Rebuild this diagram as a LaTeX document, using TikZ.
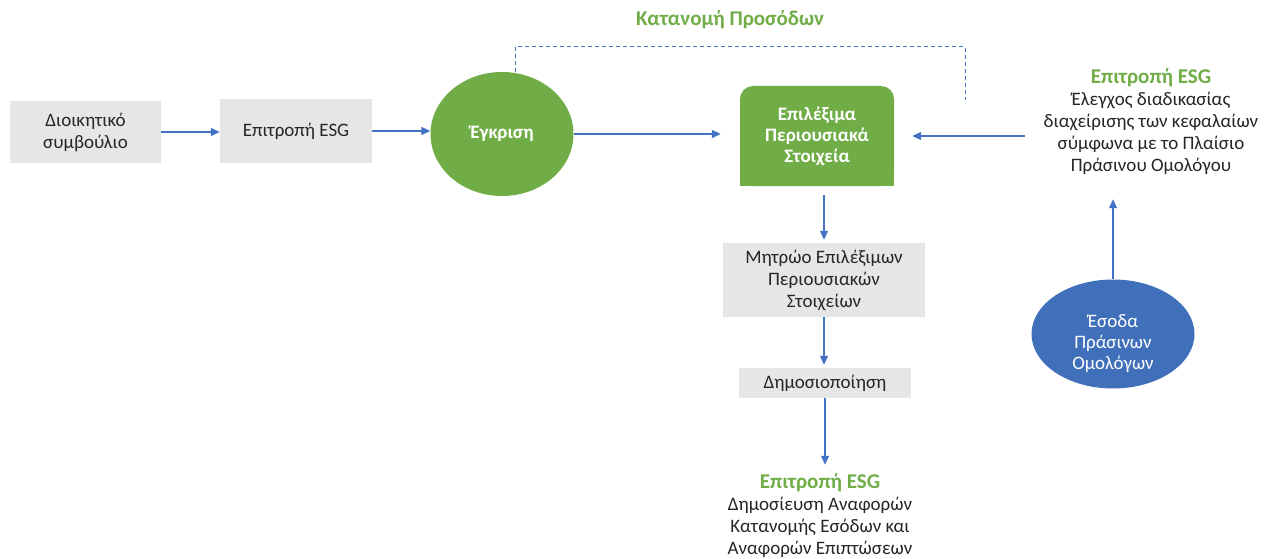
\documentclass[tikz,border=0pt]{standalone}
\usepackage{fontspec}
\setmainfont{Carlito}
\usepackage{tikz}
\usetikzlibrary{calc}
\usetikzlibrary{arrows.meta,shapes}

\definecolor{esggreen}{HTML}{70AD47}
\definecolor{esgblue}{HTML}{4472C4}
\definecolor{esgoval}{HTML}{3F70B9}
\definecolor{esggray}{HTML}{E7E6E6}
\definecolor{esgtext}{HTML}{262626}

\newcommand{\esgtitle}{\fontsize{21}{25}\selectfont\bfseries\color{esggreen}}

\tikzset{
  txt/.style={font=\fontsize{19}{22}\selectfont, text=esgtext, align=center, inner sep=0pt},
  boldtxt/.style={font=\fontsize{19}{21}\selectfont\bfseries, text=white, align=center, inner sep=0pt},
  graybox/.style={txt, rectangle, fill=esggray},
  flow/.style={draw=esgblue, line width=1.3pt, -{Triangle[length=9pt,width=8pt]}},
  dashlink/.style={draw=esgblue, line width=1pt, dash pattern=on 4pt off 3pt},
}

\begin{document}
\begin{tikzpicture}[x=1pt,y=-1pt]
\useasboundingbox (0,0) rectangle (1271,559);

  \node[graybox, minimum width=151pt, minimum height=62pt] (board) at (85.5,132) {Διοικητικό\\συμβούλιο};
  \node[graybox, minimum width=152pt, minimum height=64pt] (esg) at (296,131) {Επιτροπή ESG};
  \node[boldtxt, ellipse, fill=esggreen, minimum width=143pt, minimum height=124pt] (egkr) at (502,134) {Έγκριση};

  \fill[esggreen] (740,136) rectangle (894,186);
  \node[boldtxt, fill=esggreen, rounded corners=13pt, minimum width=154pt, minimum height=100pt] (assets) at (817,136) {Επιλέξιμα\\Περιουσιακά\\Στοιχεία};

  \node[graybox, minimum width=202pt, minimum height=74pt] (mitroo) at (824,280) {Μητρώο Επιλέξιμων\\Περιουσιακών\\Στοιχείων};
  \node[graybox, minimum width=172pt, minimum height=30pt] (dimos) at (825,383) {Δημοσιοποίηση};
  \node[txt] (report) at (820,516) {{\esgtitle Επιτροπή ESG}\\Δημοσίευση Αναφορών\\Κατανομής Εσόδων και\\Αναφορών Επιπτώσεων};

  \node[txt] (control) at (1151,122) {{\esgtitle Επιτροπή ESG}\\Έλεγχος διαδικασίας\\διαχείρισης των κεφαλαίων\\σύμφωνα με το Πλαίσιο\\Πράσινου Ομολόγου};
  \node[boldtxt, font=\fontsize{19}{21}\selectfont, ellipse, fill=esgoval, minimum width=163pt, minimum height=98pt, text height=74pt] (esoda) at (1113,334) {Έσοδα\\Πράσινων\\Ομολόγων};

  \node[txt, font=\fontsize{21}{25}\selectfont\bfseries, text=esggreen] (katanomi) at (730,20) {Κατανομή Προσόδων};
  \coordinate (dashend) at (965,100);

  \draw[flow] (board.east) -- (board.east -| esg.west);
  \draw[flow] (esg.east) -- (esg.east -| egkr.west);
  \draw[flow, shorten >=19pt] (egkr.east) -- (egkr.east -| assets.west);
  \draw[flow, shorten <=19pt, shorten >=18pt] (assets.east -| control.west) -- (assets.east);
  \draw[flow, shorten <=9pt, shorten >=3pt] (mitroo.north |- assets.south) -- (mitroo.north);
  \draw[flow, shorten >=3pt] (mitroo.south) -- (mitroo.south |- dimos.north);
  \draw[flow, shorten >=9pt] (dimos.south) -- (dimos.south |- report.north);
  \draw[flow, shorten >=24pt] (esoda.north) -- (esoda.north |- control.south);
  \draw[dashlink] ([xshift=13pt]egkr.north) -- ++(0,-25) -| (dashend);

\end{tikzpicture}
\end{document}
